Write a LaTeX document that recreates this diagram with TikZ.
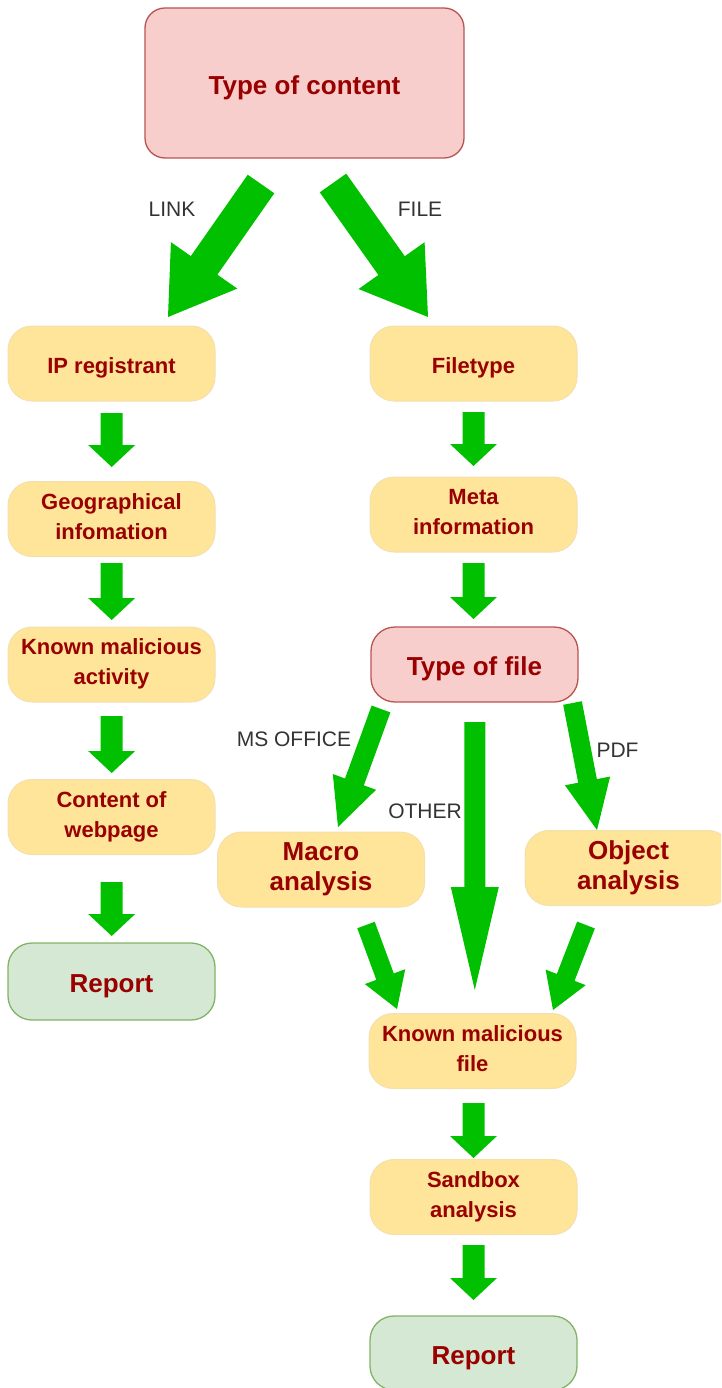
\documentclass[tikz,border=0pt]{standalone}
\usepackage{fontspec}
\setmainfont{Liberation Sans}
\usetikzlibrary{calc}

\definecolor{boxtext}{HTML}{990000}
\definecolor{labeltext}{HTML}{333333}
\definecolor{yfill}{HTML}{FFE599}
\definecolor{ydraw}{HTML}{F3E0AE}
\definecolor{pfill}{HTML}{F8CECC}
\definecolor{pdraw}{HTML}{B85450}
\definecolor{gfill}{HTML}{D5E8D4}
\definecolor{gdraw}{HTML}{82B366}
\definecolor{flowgreen}{HTML}{00C000}

\tikzset{
  basebox/.style={rounded corners=24pt, align=center, text=boxtext,
    inner sep=0pt, minimum width=207pt, minimum height=75pt},
  % fixed strut heights keep the lettering centred the same way in every box
  smalltext/.style={font=\fontsize{22}{30}\selectfont\bfseries,
    execute at begin node={\rule{0pt}{24.75pt}},
    execute at end node={\rule[-5pt]{0pt}{5pt}}},
  bigtext/.style={font=\fontsize{26}{30}\selectfont\bfseries,
    execute at begin node={\rule{0pt}{28.6pt}},
    execute at end node={\rule[-6pt]{0pt}{6pt}}},
  yellowbox/.style={basebox, fill=yfill, draw=ydraw, line width=1pt},
  stagebox/.style={yellowbox, smalltext},
  pinkbox/.style={basebox, bigtext, fill=pfill, draw=pdraw, line width=1.3pt},
  greenbox/.style={basebox, bigtext, fill=gfill, draw=gdraw, line width=1.3pt},
  branch/.style={font=\fontsize{21}{24}\selectfont, text=labeltext, inner sep=0pt},
  flow/.style={fill=flowgreen}
}

% thick block arrow: #1 start, #2 tip, #3 half shaft width,
% #4 half head width, #5 head length
\newcommand{\fatarrow}[5]{%
  \coordinate (hb) at ($(#2)!#5!(#1)$);
  \fill[flow] ($(#1)!#3!90:(#2)$) -- ($(hb)!#3!-90:(#1)$)
    -- ($(hb)!#4!-90:(#1)$) -- (#2) -- ($(hb)!#4!90:(#1)$)
    -- ($(hb)!#3!90:(#1)$) -- ($(#1)!#3!-90:(#2)$) -- cycle;
}

\begin{document}
\begin{tikzpicture}[x=1pt, y=-1pt]
\useasboundingbox (0,0) rectangle (721,1388);
\clip (0,0) rectangle (721,1388);

% ---- nodes ----
\node[pinkbox, minimum width=319pt, minimum height=150pt, rounded corners=20pt]
  (content) at (304.5,83) {Type of content};

% link branch
\node[stagebox] (ip)   at (111.5,363.5) {IP registrant};
\node[stagebox] (geo)  at (111.5,519)   {Geographical\\infomation};
\node[stagebox] (kma)  at (111.5,664.5) {Known malicious\\activity};
\node[stagebox] (cow)  at (111.5,817)   {Content of\\webpage};
\node[greenbox, minimum height=77pt] (repL) at (111.5,981.5) {Report};

% file branch
\node[stagebox] (ftype) at (473.5,363.5) {Filetype};
\node[stagebox] (meta)  at (473.5,514.5) {Meta\\information};
\node[pinkbox]  (tof)   at (474.5,664.5) {Type of file};
\node[yellowbox, bigtext] (macro)  at (321,869.5)  {Macro\\analysis};
\node[yellowbox, bigtext] (object) at (628.5,868)  {Object\\analysis};
\node[stagebox] (kmf)  at (472.5,1051)  {Known malicious\\file};
\node[stagebox] (sbx)  at (473.5,1197)  {Sandbox\\analysis};
\node[greenbox, minimum height=74pt] (repR) at (473.5,1353) {Report};

% ---- branch labels ----
\node[branch] (lLink)  at (172,209)   {LINK};
\node[branch] (lFile)  at (420,209)   {FILE};
\node[branch] (lMs)    at (294,739)   {MS OFFICE};
\node[branch] (lOther) at (425,811)   {OTHER};
\node[branch] (lPdf)   at (617.5,750) {PDF};

% ---- arrow end points ----
\coordinate (aLinkS) at (261,184);   \coordinate (aLinkT) at (168,317);
\coordinate (aFileS) at (333,183);   \coordinate (aFileT) at (428,317);

\coordinate (a1S) at (111.7,413);    \coordinate (a1T) at (111.7,467);
\coordinate (a2S) at (111.7,563);    \coordinate (a2T) at (111.7,620);
\coordinate (a3S) at (111.7,716);    \coordinate (a3T) at (111.7,773);
\coordinate (a4S) at (111.7,882);    \coordinate (a4T) at (111.7,936);

\coordinate (b1S) at (473.5,412);    \coordinate (b1T) at (473.5,466);
\coordinate (b2S) at (473.5,563);    \coordinate (b2T) at (473.5,619);

\coordinate (aMsS) at (381,709);     \coordinate (aMsT) at (338,827);
\coordinate (aOtS) at (474.8,722);   \coordinate (aOtT) at (474.8,990);
\coordinate (aPdS) at (572.5,703);   \coordinate (aPdT) at (597,830);

\coordinate (aMkS) at (366,925);     \coordinate (aMkT) at (397,1009);
\coordinate (aOkS) at (586,925);     \coordinate (aOkT) at (553,1010);

\coordinate (b3S) at (473.5,1103);   \coordinate (b3T) at (473.5,1158);
\coordinate (b4S) at (473.5,1245);   \coordinate (b4T) at (473.5,1300);

% ---- arrows ----
\fatarrow{aLinkS}{aLinkT}{16.2pt}{40.5pt}{63pt}
\fatarrow{aFileS}{aFileT}{16.2pt}{40.5pt}{63pt}

\fatarrow{a1S}{a1T}{11pt}{23.5pt}{22pt}
\fatarrow{a2S}{a2T}{11pt}{23.5pt}{22pt}
\fatarrow{a3S}{a3T}{11pt}{23.5pt}{22pt}
\fatarrow{a4S}{a4T}{11pt}{23.5pt}{22pt}
\fatarrow{b1S}{b1T}{11pt}{23.5pt}{22pt}
\fatarrow{b2S}{b2T}{11pt}{23.5pt}{22pt}
\fatarrow{b3S}{b3T}{11pt}{23.5pt}{22pt}
\fatarrow{b4S}{b4T}{11pt}{23.5pt}{22pt}

\fatarrow{aMsS}{aMsT}{10pt}{23pt}{48pt}
\fatarrow{aOtS}{aOtT}{10.5pt}{24pt}{103pt}
\fatarrow{aPdS}{aPdT}{9.5pt}{23pt}{50pt}

\fatarrow{aMkS}{aMkT}{9.3pt}{21.5pt}{34.5pt}
\fatarrow{aOkS}{aOkT}{9.5pt}{21.5pt}{35pt}
\end{tikzpicture}
\end{document}
